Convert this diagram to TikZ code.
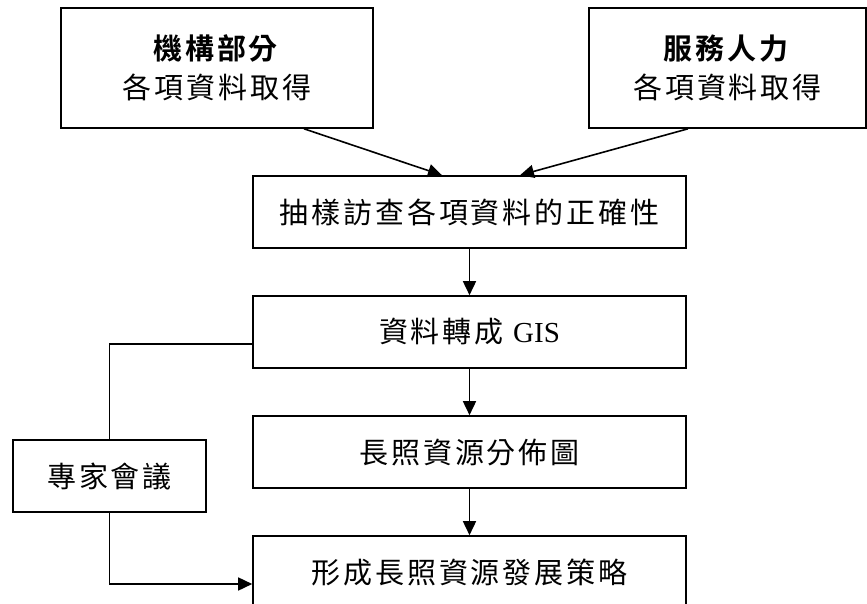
\documentclass[tikz,border=0pt]{standalone}
\usepackage{fontspec}
\setmainfont{Noto Sans CJK TC}[LetterSpace=10,BoldFont={* Bold}]
\newfontfamily\timesfont{Liberation Serif}
\usetikzlibrary{arrows.meta}

\begin{document}
\begin{tikzpicture}[x=1pt,y=-1pt,
	box/.style={draw,line width=1.6pt,inner sep=0pt,align=center,
		minimum width=433pt,minimum height=72pt,
		font=\fontsize{29}{39}\selectfont},
	arr/.style={line width=1.6pt,-{Triangle[length=14pt,width=13pt]}},
	link/.style={line width=1.6pt}]
	\useasboundingbox (0,0) rectangle (867,604);

	% data sources
	\node[box,minimum width=312pt,minimum height=120pt] (jg) at (217,68)
		{\textbf{機構部分}\\各項資料取得};
	\node[box,minimum width=277pt,minimum height=120pt] (fw) at (727.5,68)
		{\textbf{服務人力}\\各項資料取得};

	% main flow
	\node[box] (chk) at (469.5,212) {抽樣訪查各項資料的正確性};
	\node[box] (gis) at (469.5,332) {資料轉成 {\timesfont GIS}};
	\node[box] (map) at (469.5,452) {長照資源分佈圖};
	\node[box] (plan) at (469.5,572) {形成長照資源發展策略};

	\node[box,minimum width=193pt] (zj) at (109.5,476) {專家會議};

	\draw[arr] ([xshift=87pt]jg.south) -- ([xshift=-27.5pt]chk.north);
	\draw[arr] ([xshift=-39.5pt]fw.south) -- ([xshift=50.5pt]chk.north);
	\draw[arr] (chk) -- (gis);
	\draw[arr] (gis) -- (map);
	\draw[arr] (map) -- (plan);

	% expert meeting
	\draw[link] ([yshift=-12pt]gis.west) -| (zj.north);
	\draw[arr] (zj.south) |- ([yshift=-12pt]plan.west);
\end{tikzpicture}
\end{document}
